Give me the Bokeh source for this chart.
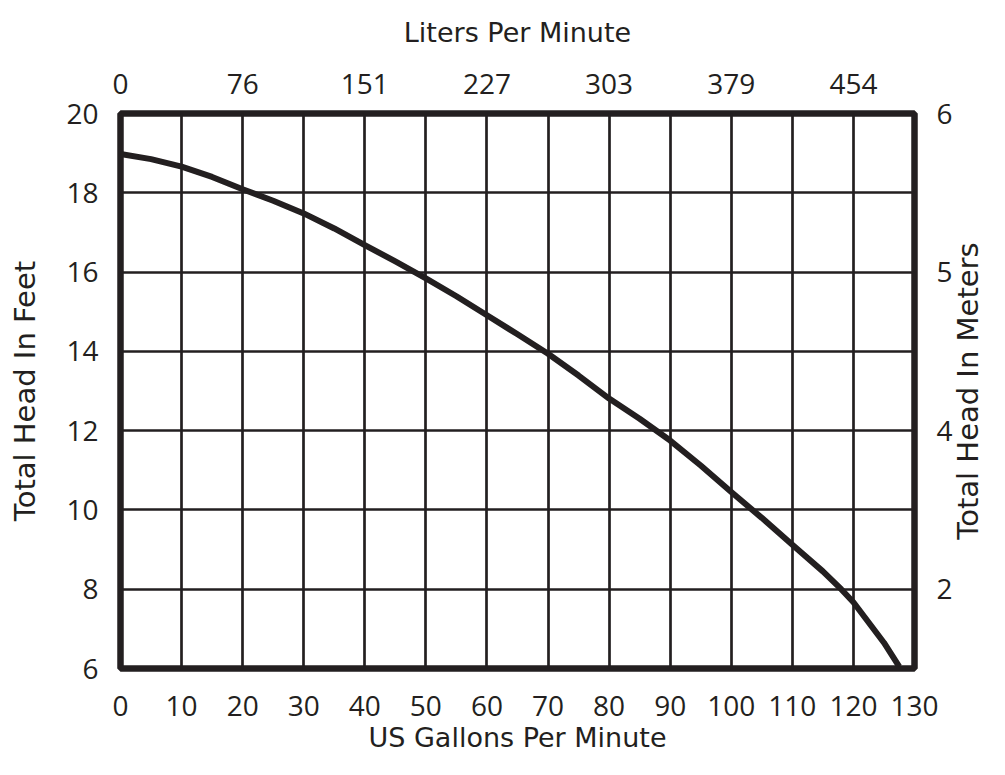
import math
from bokeh.plotting import figure
from bokeh.models import LinearAxis, FixedTicker, Range1d, Label
from bokeh.embed import file_html
from bokeh.resources import INLINE

# Pump curve (US GPM vs. total head in feet)
gpm = [0, 5, 10, 15, 20, 25, 30, 35, 40, 45, 50, 55, 60, 65, 70, 75, 80, 85,
       90, 95, 100, 105, 110, 115, 118, 120, 125, 127.5]
head_ft = [18.98, 18.85, 18.66, 18.40, 18.09, 17.80, 17.48, 17.10, 16.68, 16.27,
           15.84, 15.39, 14.91, 14.43, 13.94, 13.39, 12.81, 12.30, 11.75, 11.12,
           10.45, 9.80, 9.12, 8.45, 8.0, 7.67, 6.65, 6.05]

x_ticks = list(range(0, 131, 10))
y_ticks = [6, 8, 10, 12, 14, 16, 18, 20]
lpm_ticks = [0, 20, 40, 60, 80, 100, 120]
lpm_labels = ["0", "76", "151", "227", "303", "379", "454"]
m_ticks = [20, 16, 12, 8]
m_labels = ["6", "5", "4", "2"]

INK = "#231f20"
TICK_FONT = "Open Sans"
TITLE_FONT = "DejaVu Sans"
TICK_FS = "28px"
HTITLE_FS = "27px"
VTITLE_FS = "29px"

p = figure(width=989, height=759, x_range=Range1d(0, 130), y_range=Range1d(6, 20),
           output_backend="svg", toolbar_location=None,
           min_border_left=120, min_border_right=72, min_border_top=113,
           min_border_bottom=91)
p.background_fill_color = "white"
p.border_fill_color = "white"
p.outline_line_color = INK
p.outline_line_width = 6.5

bottom = p.below[0]
left = p.left[0]
bottom.ticker = FixedTicker(ticks=x_ticks)
left.ticker = FixedTicker(ticks=y_ticks)
bottom.axis_label = "US Gallons Per Minute"
left.axis_label = "Total Head In Feet"

p.xgrid.grid_line_color = INK
p.ygrid.grid_line_color = INK
p.xgrid.grid_line_width = 2.7
p.ygrid.grid_line_width = 2.7
p.xgrid.grid_line_alpha = 1
p.ygrid.grid_line_alpha = 1

p.line(gpm, head_ft, line_color=INK, line_width=6, line_join="round")

top = LinearAxis(ticker=FixedTicker(ticks=lpm_ticks),
                 major_label_overrides={t: l for t, l in zip(lpm_ticks, lpm_labels)},
                 axis_label="Liters Per Minute")
right = LinearAxis(ticker=FixedTicker(ticks=m_ticks),
                   major_label_overrides={t: l for t, l in zip(m_ticks, m_labels)})
p.add_layout(top, "above")
p.add_layout(right, "right")

for ax in [bottom, left, top, right]:
    ax.axis_line_color = None
    ax.major_tick_line_color = None
    ax.minor_tick_line_color = None
    ax.major_tick_out = 0
    ax.major_tick_in = 0
    ax.minor_tick_out = 0
    ax.minor_tick_in = 0
    ax.major_label_text_font = TICK_FONT
    ax.major_label_text_font_size = TICK_FS
    ax.major_label_text_color = INK
    ax.axis_label_text_font = TITLE_FONT
    ax.axis_label_text_font_size = HTITLE_FS
    ax.axis_label_text_font_style = "normal"
    ax.axis_label_text_color = INK

left.axis_label_text_font_size = VTITLE_FS

bottom.major_label_standoff = 27
bottom.axis_label_standoff = 3
left.major_label_standoff = 22
left.axis_label_standoff = 21
top.major_label_standoff = 20
top.axis_label_standoff = 23
right.major_label_standoff = 22

# Right-hand title, reading bottom to top like the left one,
# placed in the right side panel so it is not clipped to the frame
rt = Label(x=138.8, y=13, text="Total Head In Meters", angle=math.pi / 2,
           text_align="center", text_baseline="middle", text_font=TITLE_FONT,
           text_font_size=VTITLE_FS, text_color=INK)
p.add_layout(rt, "right")

open("out.html", "w").write(file_html(p, INLINE))
